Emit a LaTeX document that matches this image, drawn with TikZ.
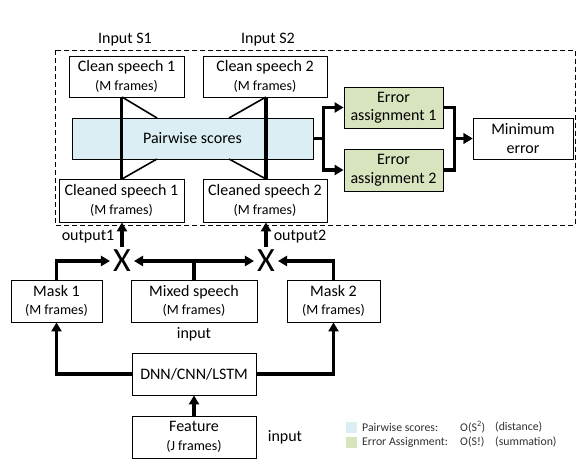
\documentclass[tikz,border=0pt]{standalone}
\usepackage{fontspec}
\setmainfont{Carlito}
\usetikzlibrary{arrows.meta}
\definecolor{psblue}{HTML}{DAEEF3}
\definecolor{eagreen}{HTML}{D7E4BD}
\definecolor{legtext}{HTML}{303030}
\newcommand\subl[1]{{\fontsize{14}{18}\selectfont #1}}
\begin{document}
\begin{tikzpicture}[x=1pt,y=-1pt,
  box/.style={draw, line width=0.8pt, inner sep=0pt, align=center,
    font=\fontsize{16}{18.5}\selectfont},
  lbl/.style={inner sep=0pt, font=\fontsize{16}{18}\selectfont},
  conn/.style={line width=3.5pt, -{Triangle[length=9pt,width=10pt]}},
  plain/.style={line width=3.5pt},
  thinl/.style={line width=1.6pt},
  xnode/.style={inner sep=3pt, font=\fontsize{34}{36}\selectfont},
  legsq/.style={inner sep=0pt, minimum width=11pt, minimum height=11pt},
  legtx/.style={inner sep=0pt, anchor=west, text=legtext, font=\fontsize{11.8}{13}\selectfont}
]
\useasboundingbox (0,0) rectangle (584,476);

% dashed frame
\draw[dash pattern=on 5pt off 3pt, line width=0.9pt] (55,50) rectangle (575,225);

\node[lbl] (in1) at (125,40) {Input S1};
\node[lbl] (in2) at (268,40) {Input S2};

\node[box, minimum width=115pt, minimum height=41pt] (c1) at (126.5,76.5) {Clean speech 1\\\subl{(M frames)}};
\node[box, minimum width=124pt, minimum height=41pt] (c2) at (265,76.5) {Clean speech 2\\\subl{(M frames)}};
\node[box, minimum width=125pt, minimum height=43pt] (cd1) at (121.5,200.5) {Cleaned speech 1\\\subl{(M frames)}};
\node[box, minimum width=124pt, minimum height=43pt] (cd2) at (265,200.5) {Cleaned speech 2\\\subl{(M frames)}};

\node[box, fill=psblue, minimum width=241pt, minimum height=41pt] (ps) at (192.5,138.5) {Pairwise scores};

% hourglass shapes
\draw[thinl] (122,97) -- (157,118);
\draw[thinl] (122,179) -- (157,159);
\draw[thinl] (266,97) -- (229,118);
\draw[thinl] (266,179) -- (229,159);
\draw[plain] (cd1.north |- c1.south) -- (cd1.north);
\draw[plain] (266,97) -- (266,179);

\node[box, fill=eagreen, minimum width=99pt, minimum height=41pt] (e1) at (393.5,107.5) {Error\\assignment 1};
\node[box, fill=eagreen, minimum width=99pt, minimum height=42pt] (e2) at (393.5,170) {Error\\assignment 2};
\node[box, minimum width=100pt, minimum height=41pt] (me) at (523,138.5) {Minimum\\error};

\draw[conn] (ps.east) -- ++(10,0) |- (e1.west);
\draw[conn] (ps.east) -- ++(10,0) |- (e2.west);
\draw[conn] (e1.east) -- ++(11,0) |- (me.west);
\draw[conn] (e2.east) -- ++(11,0) |- (me.west);

% multiplication
\node[xnode] (x1) at (122,261) {X};
\node[xnode] (x2) at (266,261) {X};
\draw[conn] (x1.north) -- (x1.north |- cd1.south);
\draw[conn] (x2.north) -- (x2.north |- cd2.south);
\node[lbl] (o1) at (88,237) {output1};
\node[lbl] (o2) at (300,237) {output2};

\node[box, minimum width=91pt, minimum height=42pt] (m1) at (56.5,301) {Mask 1\\\subl{(M frames)}};
\node[box, minimum width=126pt, minimum height=42pt] (mix) at (194,301) {Mixed speech\\\subl{(M frames)}};
\node[box, minimum width=93pt, minimum height=42pt] (m2) at (333.5,301) {Mask 2\\\subl{(M frames)}};
\node[lbl] (inp1) at (194,334) {input};

\draw[conn] (m1.north) |- (x1.west);
\draw[conn] (mix.north) |- (x1.east);
\draw[conn] (mix.north) |- (x2.west);
\draw[conn] (m2.north) |- (x2.east);

\node[box, minimum width=124pt, minimum height=42pt] (dnn) at (194,374) {DNN/CNN/LSTM};
\node[box, minimum width=124pt, minimum height=42pt] (feat) at (194,437) {Feature\\\subl{(J frames)}};
\node[lbl] (inp2) at (285,437) {input};

\draw[conn] (dnn.west) -| (m1.south);
\draw[conn] (dnn.east) -| (m2.south);
\draw[conn] (feat.north) -- (dnn.south);

% legend
\node[legsq, fill=psblue] (lg1) at (351.5,427) {};
\node[legsq, fill=eagreen] (lg2) at (351.5,442.5) {};
\node[legtx] (lt1) at (362,427) {Pairwise scores:};
\node[legtx] (lt2) at (460,427) {O(S\textsuperscript{2})};
\node[legtx] (lt3) at (495,427) {(distance)};
\node[legtx] (lt4) at (362,442.5) {Error Assignment:};
\node[legtx] (lt5) at (460,442.5) {O(S!)};
\node[legtx] (lt6) at (495,442.5) {(summation)};
\end{tikzpicture}
\end{document}
